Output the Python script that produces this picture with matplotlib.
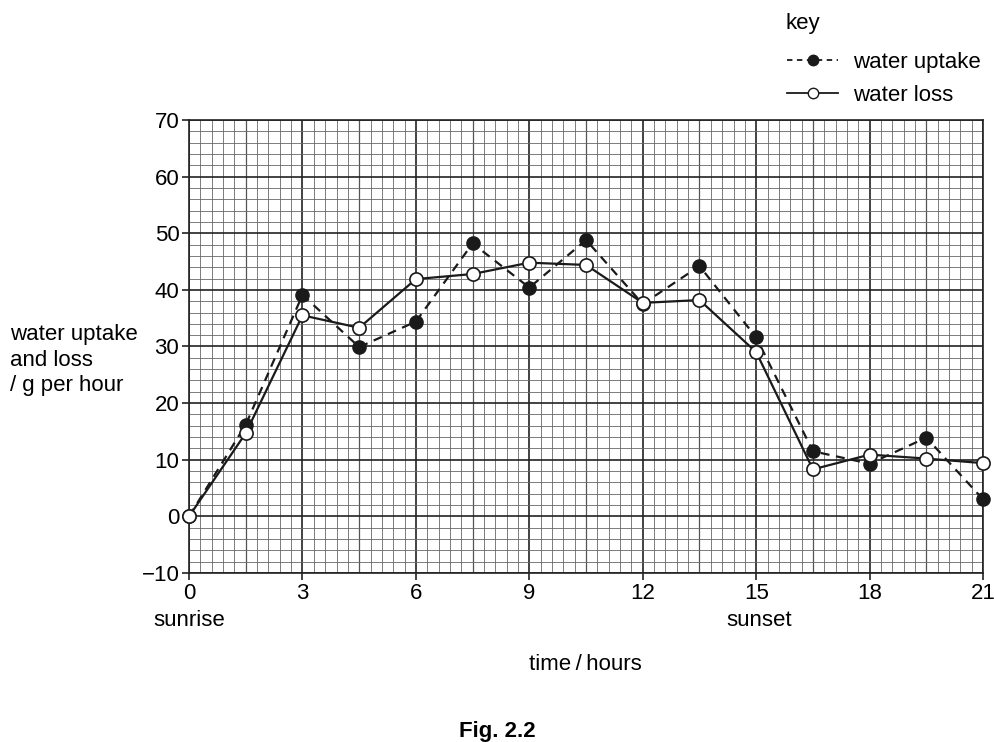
import numpy as np
import matplotlib.pyplot as plt
from matplotlib.lines import Line2D

plt.rcParams['font.family'] = ['Liberation Sans', 'DejaVu Sans']

# hours after sunrise
hours = [0, 1.5, 3, 4.5, 6, 7.5, 9, 10.5, 12, 13.5, 15, 16.5, 18, 19.5, 21]
# g per hour
uptake = [0, 16.2, 39.1, 29.9, 34.4, 48.2, 40.4, 48.8, 37.5, 44.2, 31.6, 11.5, 9.3, 13.9, 3.0]
loss = [0, 14.7, 35.5, 33.3, 41.9, 42.8, 44.8, 44.4, 37.7, 38.2, 29.0, 8.3, 10.9, 10.2, 9.4]

xticks = np.arange(0, 22, 3)
yticks = np.arange(-10, 71, 10)
fs = 16

fig = plt.figure(figsize=(9.95, 7.42), dpi=100)
ax = fig.add_axes([0.19, 0.2278, 0.798, 0.6105])

# graph paper grid
for xv in np.arange(0, 21.01, 0.3):
    k = round(xv / 0.3)
    if k % 10 == 0:
        lw, c = 1.2, '#222222'
    elif k % 5 == 0:
        lw, c = 0.9, '#555555'
    else:
        lw, c = 0.6, '#666666'
    ax.axvline(xv, color=c, lw=lw, zorder=1)
for yv in np.arange(-10, 70.01, 2):
    k = round(yv / 2)
    if k % 5 == 0:
        lw, c = 1.2, '#222222'
    else:
        lw, c = 0.6, '#666666'
    ax.axhline(yv, color=c, lw=lw, zorder=1)

ax.plot(hours, uptake, color='#1a1a1a', ls=(0, (4, 3)), lw=1.6, marker='o',
        ms=9.5, mfc='#1a1a1a', mec='#1a1a1a', zorder=3, clip_on=False)
ax.plot(hours, loss, color='#1a1a1a', ls='-', lw=1.6, marker='o',
        ms=9.5, mfc='white', mec='#1a1a1a', mew=1.2, zorder=4, clip_on=False)

ax.set_xlim(0, 21)
ax.set_ylim(-10, 70)
ax.set_xticks(xticks)
ax.set_yticks(yticks)
ax.set_yticklabels([str(v).replace('-', '\u2212') for v in yticks])
ax.tick_params(labelsize=fs, length=5, width=1.2, color='#222222', pad=2)
for s in ax.spines.values():
    s.set_color('#222222')
    s.set_linewidth(1.2)

fig.text(189 / 995, 1 - 620 / 742, 'sunrise', ha='center', va='center', fontsize=fs)
fig.text(759 / 995, 1 - 620 / 742, 'sunset', ha='center', va='center', fontsize=fs)
fig.text(585 / 995, 1 - 665 / 742, 'time\u2009/\u2009hours', ha='center', va='center', fontsize=fs)
fig.text(497 / 995, 1 - 731 / 742, 'Fig. 2.2', ha='center', va='center', fontsize=fs,
         fontweight='bold')
fig.text(10 / 995, 1 - 360 / 742, 'water uptake\nand loss\n/ g per hour', ha='left',
         va='center', fontsize=fs, linespacing=1.28)

fig.text(786 / 995, 1 - 24 / 742, 'key', ha='left', va='center', fontsize=fs)
handles = [
    Line2D([], [], color='#1a1a1a', ls=(0, (3, 2.5)), lw=1.3, marker='o', ms=7.5,
           mfc='#1a1a1a', mec='#1a1a1a'),
    Line2D([], [], color='#1a1a1a', ls='-', lw=1.3, marker='o', ms=7.5,
           mfc='white', mec='#1a1a1a'),
]
fig.legend(handles, ['water uptake', 'water loss'], loc='center left',
           bbox_to_anchor=(787 / 995, 1 - 79 / 742), frameon=False, fontsize=fs,
           handlelength=2.3, handletextpad=0.68, labelspacing=0.55, borderpad=0,
           borderaxespad=0)

fig.savefig('out.png', dpi=100)
